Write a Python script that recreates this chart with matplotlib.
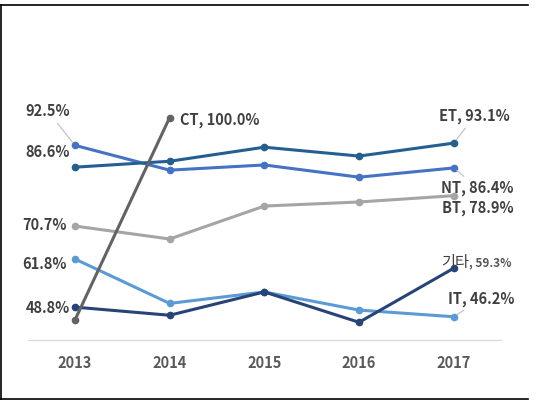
import matplotlib
matplotlib.use("Agg")
import matplotlib.pyplot as plt
from matplotlib.lines import Line2D

plt.rcParams['font.family'] = ['Noto Sans CJK KR', 'DejaVu Sans']

years = ['2013', '2014', '2015', '2016', '2017']

nt = [92.5, 85.8, 87.2, 83.9, 86.4]
et = [86.6, 88.2, 92.0, 89.6, 93.1]
bt = [70.7, 67.2, 76.1, 77.2, 78.9]
it = [61.8, 49.8, 52.9, 48.0, 46.2]
etc = [48.8, 46.6, 52.9, 44.7, 59.3]
ct = [45.3, 100.0]

fig = plt.figure(figsize=[5.43, 4.20], dpi=100)
ax = fig.add_axes([0.0508, 0.1912, 0.872, 0.617])
x = list(range(len(years)))

def line(vals, color):
    ax.plot(x[:len(vals)], vals, color=color, linewidth=2.2, marker='o',
            markersize=4.5, markerfacecolor=color, markeredgecolor=color,
            solid_capstyle='round')

line(bt, '#A5A5A5')
line(it, '#5B9BD5')
line(etc, '#264478')
line(nt, '#4472C4')
line(et, '#255E91')
line(ct, '#636363')

ax.set_xlim(-0.5, 4.5)
ax.set_ylim(40, 110)
ax.set_xticks(x)
ax.set_xticklabels(years, fontsize=10.5, fontweight='bold', color='#595959')
ax.tick_params(axis='x', length=0, pad=11)
ax.set_yticks([])
for s in ['top', 'right', 'left']:
    ax.spines[s].set_visible(False)
ax.spines['bottom'].set_color('#D9D9D9')
ax.spines['bottom'].set_linewidth(0.9)

lab = dict(fontsize=10.5, fontweight='bold', color='#404040',
           textcoords='offset pixels', ha='center', va='center')
lead = dict(arrowstyle='-', color='#BFBFBF', lw=0.8, shrinkA=1, shrinkB=3)

# left-hand labels (2013)
ax.annotate('92.5%', (0, nt[0]), xytext=(-27, 34), arrowprops=lead, **lab)
ax.annotate('86.6%', (0, et[0]), xytext=(-27, 15), **lab)
ax.annotate('70.7%', (0, bt[0]), xytext=(-30, 1), **lab)
ax.annotate('61.8%', (0, it[0]), xytext=(-30, -5), **lab)
ax.annotate('48.8%', (0, etc[0]), xytext=(-27, -1), **lab)

# right-hand labels (2017)
ax.annotate('ET, 93.1%', (4, et[4]), xytext=(21, 27), arrowprops=lead, **lab)
ax.annotate('NT, 86.4%', (4, nt[4]), xytext=(24, -20), arrowprops=lead, **lab)
ax.annotate('BT, 78.9%', (4, bt[4]), xytext=(24, -12), **lab)
ax.annotate('IT, 46.2%', (4, it[4]), xytext=(28, 18), arrowprops=lead, **lab)
ax.annotate('기타', (4, etc[4]), xytext=(15, 6), textcoords='offset pixels',
            ha='right', va='center', fontsize=11, color='#404040')
ax.annotate(', 59.3%', (4, etc[4]), xytext=(15, 5), textcoords='offset pixels',
            ha='left', va='center', fontsize=8.5, fontweight='bold', color='#595959')

ax.annotate('CT, 100.0%', (1, ct[1]), xytext=(10, -2), textcoords='offset pixels',
            ha='left', va='center', fontsize=10.5, fontweight='bold', color='#404040')

# outer frame (no right edge)
fr = dict(color='black', linewidth=1.2, transform=fig.transFigure)
fig.add_artist(Line2D([0.002, 0.972], [0.988, 0.988], **fr))
fig.add_artist(Line2D([0.002, 0.972], [0.05, 0.05], **fr))
fig.add_artist(Line2D([0.002, 0.002], [0.05, 0.988], **fr))

fig.savefig('out.png', dpi=100)
